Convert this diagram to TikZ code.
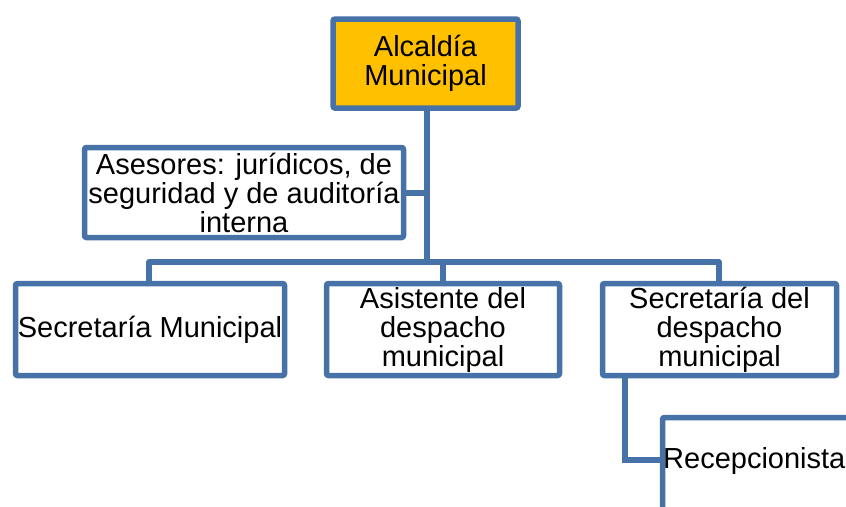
\documentclass[tikz,border=0pt]{standalone}
\usepackage{fontspec}
\setmainfont{Liberation Sans}
\definecolor{boxline}{RGB}{70,114,168}
\definecolor{topfill}{RGB}{255,192,0}
\tikzset{
  orgbox/.style={draw=boxline, line width=5.5pt, fill=white, rounded corners=2pt,
    inner sep=0pt, align=center, font=\fontsize{29}{29}\selectfont},
  link/.style={draw=boxline, line width=5.5pt}
}
\begin{document}
\begin{tikzpicture}[x=1pt,y=-1pt]
\useasboundingbox (0,0) rectangle (846,506);
\clip (0,0) rectangle (846,506);
\coordinate (busL) at (149,262);
\coordinate (busR) at (719,262);
\coordinate (busT) at (427,262);
\coordinate (busM) at (443,262);
\coordinate (advJ) at (427,193);
\coordinate (recJ) at (625,376);
\coordinate (recE) at (662,460);

\node[orgbox, fill=topfill, minimum width=185pt, minimum height=89pt] (top) at (425.5,63.5) {Alcaldía\\Municipal};
\node[orgbox, minimum width=319pt, minimum height=90pt] (adv) at (244,192.5) {Asesores: jurídicos, de\\seguridad y de auditoría\\interna};
\node[orgbox, minimum width=269pt, minimum height=92pt] (sm) at (150,329.5) {Secretaría Municipal};
\node[orgbox, minimum width=233pt, minimum height=92pt] (asis) at (443,329.5) {Asistente del\\despacho\\municipal};
\node[orgbox, minimum width=234pt, minimum height=92pt] (sdm) at (719.5,329.5) {Secretaría del\\despacho\\municipal};
\node[orgbox, minimum width=240pt, minimum height=120pt] (rec) at (782.5,477.5) {};
\node[font=\fontsize{29}{29}\selectfont, inner sep=0pt, anchor=base west] (rectext) at (663,468) {Recepcionista};

\path[link] (top.south -| busT) -- (busT);
\path[link] (adv.east |- advJ) -- (advJ);
\path[link, line join=round] (sm.north -| busL) -- (busL) -- (busR) -- (sdm.north -| busR);
\path[link] (busM) -- (asis.north -| busM);
\path[link] (sdm.south -| recJ) |- (recE);
\end{tikzpicture}
\end{document}
